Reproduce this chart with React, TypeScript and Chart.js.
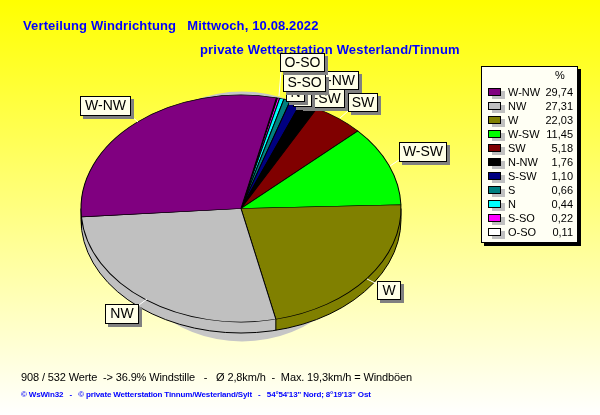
import React, { useEffect, useRef } from "react";
import { Chart, registerables } from "chart.js";

Chart.register(...registerables);

// Data (legend order, counter-clockwise in the pie)
const directions = ["W-NW", "NW", "W", "W-SW", "SW", "N-NW", "S-SW", "S", "N", "S-SO", "O-SO"];
const percents = [29.74, 27.31, 22.03, 11.45, 5.18, 1.76, 1.1, 0.66, 0.44, 0.22, 0.11];
const percentLabels = ["29,74", "27,31", "22,03", "11,45", "5,18", "1,76", "1,10", "0,66", "0,44", "0,22", "0,11"];
const colors = ["#800080", "#c0c0c0", "#808000", "#00ff00", "#800000", "#000000", "#000080", "#008080", "#00ffff", "#ff00ff", "#ffffff"];

const title1 = "Verteilung Windrichtung   Mittwoch, 10.08.2022";
const title2 = "private Wetterstation Westerland/Tinnum";
const statLine = "908 / 532 Werte  -> 36.9% Windstille   -   Ø 2,8km/h  -  Max. 19,3km/h = Windböen";
const footer = "© WsWin32   -   © private Wetterstation Tinnum/Westerland/Sylt   -   54°54'13\" Nord; 8°19'13\" Ost";

// Callout boxes [x0, y0, x1, y1] in legend order
const calloutBoxes = [
  [80, 96, 131, 116],
  [105, 304, 139, 324],
  [377, 281, 401, 300],
  [399, 142, 447, 162],
  [348, 93, 378, 112],
  [313, 71, 359, 90],
  [300, 89, 345, 108],
  [293, 87, 312, 107],
  [286, 83, 305, 102],
  [283, 74, 326, 92],
  [280, 53, 325, 72],
];
// Leader lines [x0, y0, x1, y1]
const leaders = [
  [131, 116, 138, 122],
  [139, 305, 147, 299],
  [367, 279, 377, 284],
  [390, 166, 399, 160],
  [340, 118, 348, 111],
  [281, 72, 279, 96],
];

const CX = 241;
const CY = 208.5;
const RX = 160;
const RY = 113.5;
const DEPTH = 11;
const ARIAL = '"Liberation Sans", Arial, sans-serif';

const piePlugin = {
  id: "pie3d",
  beforeDraw(chart: any) {
    const { ctx, width, height } = chart;
    ctx.save();
    const g = ctx.createLinearGradient(0, 0, 0, height);
    g.addColorStop(0, "#ffff00");
    g.addColorStop(1, "#ffffff");
    ctx.fillStyle = g;
    ctx.fillRect(0, 0, width, height);
    // drop shadow behind the pie
    ctx.fillStyle = "#c6c6c6";
    ctx.beginPath();
    ctx.ellipse(CX + 1, 216.5, 130, 125, 0, 0, Math.PI * 2);
    ctx.fill();
    ctx.restore();
  },
  beforeDatasetsDraw(chart: any) {
    const { ctx } = chart;
    const arcs = chart.getDatasetMeta(0).data;
    ctx.save();
    for (let k = DEPTH; k >= 1; k--) {
      arcs.forEach((a: any) => {
        ctx.fillStyle = a.options.backgroundColor;
        ctx.beginPath();
        ctx.moveTo(CX, CY + k);
        ctx.ellipse(CX, CY + k, RX, RY, 0, a.startAngle, a.endAngle);
        ctx.closePath();
        ctx.fill();
      });
    }
    ctx.strokeStyle = "#000";
    ctx.lineWidth = 1;
    ctx.beginPath();
    ctx.ellipse(CX, CY + DEPTH, RX, RY, 0, 0, Math.PI);
    ctx.stroke();
    ctx.beginPath();
    ctx.moveTo(CX + RX, CY);
    ctx.lineTo(CX + RX, CY + DEPTH);
    ctx.moveTo(CX - RX, CY);
    ctx.lineTo(CX - RX, CY + DEPTH);
    arcs.forEach((a: any) => {
      if (Math.sin(a.startAngle) > 0) {
        const x = CX + RX * Math.cos(a.startAngle);
        const y = CY + RY * Math.sin(a.startAngle);
        ctx.moveTo(x, y);
        ctx.lineTo(x, y + DEPTH);
      }
    });
    ctx.stroke();
    ctx.restore();
    // squash the library's circular pie into the ellipse
    const a0 = arcs[0];
    const R = a0.outerRadius;
    ctx.save();
    ctx.translate(CX, CY);
    ctx.scale(RX / R, RY / R);
    ctx.translate(-a0.x, -a0.y);
  },
  afterDatasetsDraw(chart: any) {
    chart.ctx.restore();
  },
  afterDraw(chart: any) {
    const { ctx } = chart;
    ctx.save();
    ctx.textBaseline = "alphabetic";
    ctx.textAlign = "left";

    // titles
    ctx.fillStyle = "#0000ff";
    ctx.font = `bold 13px ${ARIAL}`;
    ctx.letterSpacing = "0.13px";
    ctx.fillText(title1, 23, 30);
    ctx.letterSpacing = "0.18px";
    ctx.fillText(title2, 200, 54);

    // footer lines
    ctx.fillStyle = "#000";
    ctx.font = `11px ${ARIAL}`;
    ctx.letterSpacing = "-0.13px";
    ctx.fillText(statLine, 21, 381);
    ctx.fillStyle = "#0000ff";
    ctx.font = `bold 8px ${ARIAL}`;
    ctx.letterSpacing = "-0.15px";
    ctx.fillText(footer, 21, 397);
    ctx.letterSpacing = "0px";

    // leader lines
    ctx.strokeStyle = "#ffffff";
    ctx.lineWidth = 1;
    leaders.forEach(([x0, y0, x1, y1]) => {
      ctx.beginPath();
      ctx.moveTo(x0, y0);
      ctx.lineTo(x1, y1);
      ctx.stroke();
    });

    // callouts
    ctx.font = `14px ${ARIAL}`;
    ctx.textAlign = "center";
    ctx.textBaseline = "middle";
    directions.forEach((name, i) => {
      const [x0, y0, x1, y1] = calloutBoxes[i];
      ctx.fillStyle = "#808080";
      ctx.fillRect(x0 + 3, y0 + 3, x1 - x0, y1 - y0);
      ctx.fillStyle = "#ffffe8";
      ctx.strokeStyle = "#000";
      ctx.fillRect(x0, y0, x1 - x0, y1 - y0);
      ctx.strokeRect(x0 + 0.5, y0 + 0.5, x1 - x0 - 1, y1 - y0 - 1);
      ctx.fillStyle = "#000";
      ctx.fillText(name, (x0 + x1) / 2, (y0 + y1) / 2 + 0.5);
    });

    // legend
    const lx = 481, ly = 66, lw = 97, lh = 177;
    ctx.fillStyle = "#000";
    ctx.fillRect(lx + 3, ly + 3, lw, lh);
    ctx.fillStyle = "#fffff4";
    ctx.fillRect(lx, ly, lw, lh);
    ctx.strokeStyle = "#000";
    ctx.strokeRect(lx + 0.5, ly + 0.5, lw - 1, lh - 1);
    ctx.font = `11px ${ARIAL}`;
    ctx.textBaseline = "middle";
    ctx.fillStyle = "#000";
    ctx.textAlign = "center";
    ctx.fillText("%", 560, 76);
    directions.forEach((name, i) => {
      const y = 92 + i * 14;
      ctx.fillStyle = "#c0c0c0";
      ctx.fillRect(492, y - 1, 13, 8);
      ctx.fillStyle = colors[i];
      ctx.fillRect(488, y - 4, 13, 8);
      ctx.strokeStyle = "#000";
      ctx.strokeRect(488.5, y - 3.5, 12, 7);
      ctx.fillStyle = "#000";
      ctx.textAlign = "left";
      ctx.fillText(name, 508, y + 0.5);
      ctx.textAlign = "right";
      ctx.fillText(percentLabels[i], 573, y + 0.5);
    });
    ctx.restore();
  },
};

export default function App() {
  const ref = useRef<HTMLCanvasElement>(null);
  useEffect(() => {
    if (!ref.current) return;
    const chart = new Chart(ref.current, {
      type: "pie",
      data: {
        labels: [...directions].reverse(),
        datasets: [
          {
            data: [...percents].reverse(),
            backgroundColor: [...colors].reverse(),
            borderColor: "#000000",
            borderWidth: 1,
          },
        ],
      },
      options: {
        responsive: false,
        devicePixelRatio: 1,
        animation: false,
        rotation: 12.8,
        layout: { padding: { top: 47, bottom: 47, left: 81, right: 199 } },
        plugins: { legend: { display: false }, title: { display: false }, tooltip: { enabled: false } },
      },
      plugins: [piePlugin],
    } as any);
    return () => chart.destroy();
  }, []);
  return (
    <div style={{ position: "absolute", left: 0, top: 0, width: 600, height: 415 }}>
      <canvas ref={ref} width={600} height={415} style={{ display: "block" }} />
    </div>
  );
}
